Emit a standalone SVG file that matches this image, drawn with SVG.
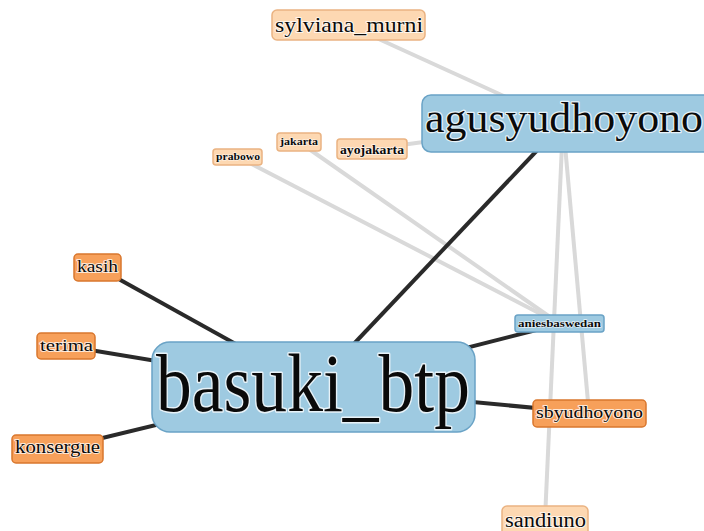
<svg xmlns="http://www.w3.org/2000/svg" width="704" height="531" viewBox="0 0 704 531">
<style>
.bg{fill:#ffffff}
.gray{stroke:#d9d9d9;stroke-width:4;fill:none}
.dark{stroke:#2a2a2a;stroke-width:4;fill:none}
.blue{fill:#9ecae1;stroke:#6aa3c6;stroke-width:1.5}
.orange{fill:#f7a05a;stroke:#d9772e;stroke-width:1.5}
.light{fill:#fdd8b2;stroke:#eab382;stroke-width:1.5}
text{font-family:"Liberation Serif","Times New Roman",serif;fill:#0a0a0a;stroke:#ffffff;stroke-opacity:0.75;paint-order:stroke;stroke-linejoin:round}
.b{font-weight:bold}
</style>
<rect class="bg" x="0" y="0" width="704" height="531"/>
<g id="connectors">
<line class="gray" x1="348" y1="25" x2="563" y2="123"/>
<line class="gray" x1="372" y1="149" x2="563" y2="123"/>
<line class="gray" x1="238" y1="157" x2="560" y2="324"/>
<line class="gray" x1="299" y1="142" x2="560" y2="324"/>
<line class="gray" x1="563" y1="123" x2="545" y2="519"/>
<line class="gray" x1="563" y1="123" x2="589" y2="413"/>
<line class="dark" x1="563" y1="123" x2="313" y2="387"/>
<line class="dark" x1="97" y1="267" x2="313" y2="387"/>
<line class="dark" x1="66" y1="346" x2="313" y2="387"/>
<line class="dark" x1="57" y1="449" x2="313" y2="387"/>
<line class="dark" x1="313" y1="387" x2="560" y2="324"/>
<line class="dark" x1="313" y1="387" x2="589" y2="413"/>
</g>
<g id="sylviana_murni">
<rect class="light" x="272" y="10" width="153" height="30" rx="5"/>
<text x="275" y="32" font-size="21" textLength="148" lengthAdjust="spacingAndGlyphs" stroke-width="2">sylviana_murni</text>
</g>
<g id="agusyudhoyono">
<rect class="blue" x="422" y="95" width="290" height="57" rx="9"/>
<text x="425" y="132" font-size="42" textLength="278" lengthAdjust="spacingAndGlyphs" stroke-width="2.5">agusyudhoyono</text>
</g>
<g id="prabowo">
<rect class="light" x="213" y="149" width="49" height="16" rx="3"/>
<text class="b" x="216" y="160" font-size="9.5" textLength="44" lengthAdjust="spacingAndGlyphs" stroke-width="1.2">prabowo</text>
</g>
<g id="jakarta">
<rect class="light" x="277" y="133" width="44" height="18" rx="3"/>
<text class="b" x="280" y="145" font-size="10.5" textLength="38" lengthAdjust="spacingAndGlyphs" stroke-width="1.2">jakarta</text>
</g>
<g id="ayojakarta">
<rect class="light" x="337" y="139" width="70" height="20" rx="3"/>
<text class="b" x="340" y="154" font-size="13" textLength="64" lengthAdjust="spacingAndGlyphs" stroke-width="1.5">ayojakarta</text>
</g>
<g id="aniesbaswedan">
<rect class="blue" x="515" y="315" width="89" height="17" rx="3"/>
<text class="b" x="518" y="327" font-size="11" textLength="83" lengthAdjust="spacingAndGlyphs" stroke-width="1.3">aniesbaswedan</text>
</g>
<g id="kasih">
<rect class="orange" x="74" y="254" width="47" height="27" rx="4"/>
<text x="77" y="272" font-size="17" textLength="41" lengthAdjust="spacingAndGlyphs" stroke-width="2">kasih</text>
</g>
<g id="terima">
<rect class="orange" x="37" y="333" width="58" height="26" rx="4"/>
<text x="40" y="351" font-size="17" textLength="53" lengthAdjust="spacingAndGlyphs" stroke-width="2">terima</text>
</g>
<g id="konsergue">
<rect class="orange" x="12" y="435" width="91" height="28" rx="4"/>
<text x="15" y="453" font-size="19" textLength="85" lengthAdjust="spacingAndGlyphs" stroke-width="2">konsergue</text>
</g>
<g id="basuki_btp">
<rect class="blue" x="152" y="342" width="323" height="90" rx="18"/>
<text x="156" y="411" font-size="82" textLength="314" lengthAdjust="spacingAndGlyphs" stroke-width="3">basuki_btp</text>
</g>
<g id="sbyudhoyono">
<rect class="orange" x="533" y="400" width="113" height="27" rx="4"/>
<text x="536" y="418" font-size="17" textLength="107" lengthAdjust="spacingAndGlyphs" stroke-width="2">sbyudhoyono</text>
</g>
<g id="sandiuno">
<rect class="light" x="502" y="506" width="86" height="32" rx="5"/>
<text x="505" y="527" font-size="20" textLength="81" lengthAdjust="spacingAndGlyphs" stroke-width="2">sandiuno</text>
</g>
</svg>
